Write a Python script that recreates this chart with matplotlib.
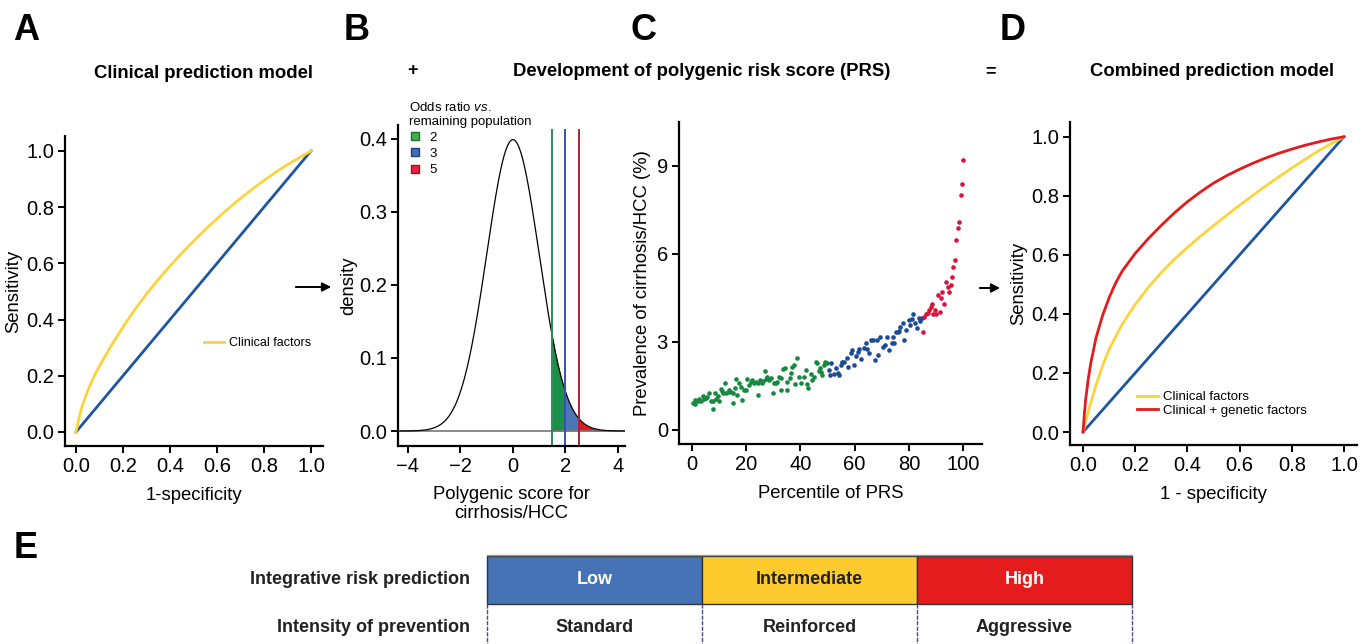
import numpy as np
import matplotlib
matplotlib.use("Agg")
import matplotlib.pyplot as plt
from matplotlib.lines import Line2D
from matplotlib.patches import Rectangle, FancyArrowPatch
from matplotlib.ticker import FormatStrFormatter

plt.rcParams['font.family'] = ['Liberation Sans', 'DejaVu Sans']
plt.rcParams['mathtext.fontset'] = 'custom'
plt.rcParams['mathtext.it'] = 'Liberation Sans:italic'
plt.rcParams['mathtext.rm'] = 'Liberation Sans'

# ---- data ----
# panel A: clinical ROC
a_fpr = [0, 0.01, 0.025, 0.05, 0.075, 0.1, 0.15, 0.2, 0.25, 0.3, 0.35, 0.4, 0.45, 0.5,
         0.55, 0.6, 0.65, 0.7, 0.75, 0.8, 0.85, 0.9, 0.95, 1.0]
a_tpr = [0, 0.04, 0.09, 0.148, 0.195, 0.235, 0.3075, 0.374, 0.435, 0.491, 0.5425, 0.5905,
         0.636, 0.679, 0.72, 0.759, 0.796, 0.831, 0.864, 0.895, 0.924, 0.951, 0.976, 1.0]

# panel B: PRS density (standard normal) and odds ratio cut-offs
prs_mean, prs_sd = 0.0, 1.0
or_labels = ['2', '3', '5']
or_cuts = [1.5, 2.0, 2.5]

# panel C: prevalence by PRS percentile
green_x = [0.5, 1.0, 1.2, 2.1, 2.7, 3.3, 3.9, 4.5, 5.1, 5.7, 6.4, 6.9, 7.6, 7.8, 8.5, 9.0,
           9.5, 10.0, 10.6, 11.0, 11.5, 12.2, 12.5, 13.1, 13.7, 14.3, 15.0, 15.2, 15.9, 16.2,
           16.5, 17.4, 17.9, 18.6, 19.3, 19.9, 20.4, 21.1, 21.7, 22.3, 22.9, 23.5, 24.2, 24.5,
           25.1, 25.8, 26.2, 26.8, 27.2, 27.8, 28.4, 29.1, 29.7, 30.3, 30.9, 31.5, 32.1, 32.8,
           33.0, 33.6, 34.3, 34.9, 35.1, 36.0, 36.4, 37.0, 37.7, 38.0, 38.9, 39.5, 40.1, 41.3,
           41.9, 42.3, 42.8, 43.8, 44.4, 45.0, 45.6, 46.2, 46.8, 47.2, 47.7, 48.0, 48.6, 49.2,
           49.8]
green_y = [0.93, 0.88, 1.02, 0.98, 1.05, 1.00, 1.16, 1.04, 1.09, 1.12, 1.27, 0.97, 1.00, 0.71,
           1.27, 1.05, 1.16, 1.00, 1.40, 1.33, 1.25, 1.60, 1.25, 1.30, 1.36, 1.30, 0.91, 1.25,
           1.42, 1.75, 1.20, 1.59, 1.48, 1.02, 1.36, 1.36, 1.75, 1.54, 1.65, 1.70, 1.59, 1.65,
           1.59, 1.20, 1.70, 1.61, 1.68, 2.00, 1.73, 1.79, 1.70, 1.76, 1.25, 1.59, 1.59, 1.63,
           1.82, 1.76, 1.36, 2.07, 2.10, 1.63, 1.36, 1.76, 1.93, 2.16, 2.22, 1.56, 2.44, 1.80,
           1.59, 1.80, 2.05, 1.56, 1.42, 1.90, 1.70, 1.82, 2.33, 2.27, 2.02, 2.10, 1.99, 1.88,
           2.22, 2.30, 2.27]
blue_x = [50.5, 50.8, 51.1, 52.3, 53.2, 53.8, 54.4, 54.8, 55.4, 56.1, 57.1, 57.7, 58.5, 59.2,
          59.7, 60.4, 61.3, 61.8, 62.5, 63.3, 64.1, 64.5, 65.3, 66.1, 66.8, 67.4, 68.3, 68.7,
          69.3, 70.3, 71.2, 71.8, 72.8, 73.7, 74.1, 74.6, 75.4, 75.9, 76.2, 76.8, 77.8, 78.3,
          79.0, 79.9, 80.5, 81.1, 81.7, 82.4, 83.0, 83.6, 84.2, 84.8]
blue_y = [2.05, 1.88, 2.27, 1.90, 2.10, 1.95, 1.88, 2.22, 2.30, 2.33, 2.44, 2.16, 2.64, 2.71,
          2.22, 2.52, 2.67, 2.75, 2.41, 2.78, 2.98, 2.75, 2.61, 3.07, 3.05, 2.39, 3.05, 2.56,
          3.16, 2.84, 2.90, 3.18, 2.73, 2.98, 3.16, 2.98, 3.34, 3.35, 3.37, 3.52, 3.64, 3.07,
          3.41, 3.75, 3.58, 3.77, 3.95, 3.64, 3.47, 3.81, 3.70, 3.81]
red_x = [85.4, 85.7, 86.4, 86.9, 87.6, 88.1, 88.6, 89.1, 89.7, 90.1, 90.6, 91.4, 91.9, 92.4,
         93.1, 93.9, 94.4, 94.9, 95.4, 95.9, 96.4, 97.0, 97.5, 98.1, 98.6, 99.1, 99.6, 100.0]
red_y = [3.35, 3.86, 3.95, 3.99, 4.08, 4.20, 4.31, 3.95, 4.08, 3.95, 4.60, 4.03, 4.49, 4.71,
         4.31, 5.05, 4.88, 4.71, 4.94, 5.22, 5.56, 5.81, 6.47, 6.90, 7.09, 8.00, 8.37, 9.19]

# panel D: combined ROC
d_fpr_clin = [0, 0.01, 0.025, 0.05, 0.075, 0.1, 0.15, 0.2, 0.25, 0.3, 0.35, 0.4, 0.45, 0.5,
              0.55, 0.6, 0.65, 0.7, 0.75, 0.8, 0.85, 0.9, 0.95, 1.0]
d_tpr_clin = [0, 0.035, 0.085, 0.16, 0.225, 0.28, 0.365, 0.432, 0.49, 0.54, 0.585, 0.625,
              0.663, 0.699, 0.734, 0.768, 0.801, 0.833, 0.864, 0.894, 0.923, 0.951, 0.976, 1.0]
d_fpr_comb = [0, 0.005, 0.01, 0.02, 0.03, 0.05, 0.075, 0.1, 0.125, 0.15, 0.2, 0.25, 0.3,
              0.35, 0.4, 0.45, 0.5, 0.55, 0.6, 0.65, 0.7, 0.75, 0.8, 0.85, 0.9, 0.95, 1.0]
d_tpr_comb = [0, 0.06, 0.11, 0.18, 0.235, 0.32, 0.395, 0.455, 0.505, 0.545, 0.605, 0.655,
              0.70, 0.742, 0.78, 0.813, 0.843, 0.868, 0.89, 0.91, 0.928, 0.944, 0.958, 0.971,
              0.982, 0.992, 1.0]

# panel E: table
risk_levels = ['Low', 'Intermediate', 'High']
prevention = ['Standard', 'Reinforced', 'Aggressive']
row_labels = ['Integrative risk prediction', 'Intensity of prevention']

YELLOW = '#fdd33c'
DIAG = '#1d55a0'
RED = '#e41a1c'
GREEN_PT = '#17893f'
BLUE_PT = '#1b4b94'
RED_PT = '#d7153b'
TICK_FS = 14.5
LAB_FS = 13.3

W, H = 1365, 644
fig = plt.figure(figsize=(W / 100, H / 100), dpi=100)


def box(x0, y0, x1, y1):
    return [x0 / W, 1 - y1 / H, (x1 - x0) / W, (y1 - y0) / H]


def fxy(x, y):
    return (x / W, 1 - y / H)


def style(ax):
    for s in ['top', 'right']:
        ax.spines[s].set_visible(False)
    for s in ['left', 'bottom']:
        ax.spines[s].set_linewidth(1.6)
    ax.tick_params(width=1.4, length=5, labelsize=TICK_FS, pad=3)
    ax.set_facecolor('none')


# ---- A ----
axA = fig.add_axes(box(65, 136, 323, 446))
style(axA)
axA.plot([0, 1], [0, 1], color=DIAG, lw=2)
axA.plot(a_fpr, a_tpr, color=YELLOW, lw=2, label='Clinical factors')
axA.set_xlim(-0.047, 1.051)
axA.set_ylim(-0.05, 1.053)
axA.set_xticks(np.arange(0, 1.01, 0.2))
axA.set_yticks(np.arange(0, 1.01, 0.2))
axA.xaxis.set_major_formatter(FormatStrFormatter('%.1f'))
axA.yaxis.set_major_formatter(FormatStrFormatter('%.1f'))
axA.set_xlabel('1-specificity', fontsize=LAB_FS, labelpad=8)
axA.set_ylabel('Sensitivity', fontsize=LAB_FS, labelpad=3)
axA.legend(loc='center left', bbox_to_anchor=(0.54, 0.332), frameon=False, fontsize=9,
           handlelength=1.6, handletextpad=0.4, borderpad=0, borderaxespad=0)

# ---- B ----
axB = fig.add_axes(box(398, 125, 625, 446))
style(axB)
xs = np.linspace(-4.3, 4.3, 600)
dens = np.exp(-0.5 * ((xs - prs_mean) / prs_sd) ** 2) / (prs_sd * np.sqrt(2 * np.pi))
axB.axhline(0, color='#777777', lw=1.2)
axB.plot(xs, dens, color='black', lw=0.9)
fill_cols = ['#1b9148', '#4a78b6', '#e31a1c']
line_cols = ['#2e8b57', '#3a4fb0', '#b0213a']
edges = or_cuts + [4.3]
for i in range(3):
    m = (xs >= edges[i]) & (xs <= edges[i + 1])
    axB.fill_between(xs[m], 0, dens[m], color=fill_cols[i], lw=0)
    axB.axvline(or_cuts[i], ymax=0.985, color=line_cols[i], lw=1.4)
axB.set_xlim(-4.38, 4.27)
axB.set_ylim(-0.0205, 0.419)
axB.set_xticks([-4, -2, 0, 2, 4])
axB.set_xticklabels(['\u22124', '\u22122', '0', '2', '4'])
axB.set_yticks([0, 0.1, 0.2, 0.3, 0.4])
axB.yaxis.set_major_formatter(FormatStrFormatter('%.1f'))
axB.set_xlabel('Polygenic score for\ncirrhosis/HCC', fontsize=LAB_FS, labelpad=7)
axB.set_ylabel('density', fontsize=LAB_FS, labelpad=1)
handles = [Line2D([], [], ls='none', marker='s', markersize=6, markerfacecolor=fc,
                  markeredgecolor=lc, markeredgewidth=1) for fc, lc in
           zip(['#3cb24a', '#3f6fb8', '#e8243c'], ['#1f6e2c', '#1e3f80', '#9a1028'])]
axB.legend(handles, or_labels, title='Odds ratio $\\it{vs.}$\nremaining population',
           loc='upper left', bbox_to_anchor=(0.05, 1.075), frameon=False, fontsize=9.5,
           title_fontsize=9.5, handlelength=0.8, handletextpad=0.7, labelspacing=0.3,
           borderpad=0, borderaxespad=0, alignment='left')

# ---- C ----
axC = fig.add_axes(box(679, 122, 982, 444))
style(axC)
axC.scatter(green_x, green_y, s=11, color=GREEN_PT, lw=0)
axC.scatter(blue_x, blue_y, s=11, color=BLUE_PT, lw=0)
axC.scatter(red_x, red_y, s=11, color=RED_PT, lw=0)
axC.set_xlim(-4.8, 107)
axC.set_ylim(-0.48, 10.5)
axC.set_xticks([0, 20, 40, 60, 80, 100])
axC.set_yticks([0, 3, 6, 9])
axC.set_xlabel('Percentile of PRS', fontsize=LAB_FS, labelpad=8)
axC.set_ylabel('Prevalence of cirrhosis/HCC (%)', fontsize=LAB_FS, labelpad=4)

# ---- D ----
axD = fig.add_axes(box(1070, 122, 1357, 445))
style(axD)
axD.plot([0, 1], [0, 1], color=DIAG, lw=2)
axD.plot(d_fpr_clin, d_tpr_clin, color=YELLOW, lw=2, label='Clinical factors')
axD.plot(d_fpr_comb, d_tpr_comb, color=RED, lw=2, label='Clinical + genetic factors')
axD.set_xlim(-0.05, 1.05)
axD.set_ylim(-0.044, 1.05)
axD.set_xticks(np.arange(0, 1.01, 0.2))
axD.set_yticks(np.arange(0, 1.01, 0.2))
axD.xaxis.set_major_formatter(FormatStrFormatter('%.1f'))
axD.yaxis.set_major_formatter(FormatStrFormatter('%.1f'))
axD.set_xlabel('1 - specificity', fontsize=LAB_FS, labelpad=8)
axD.set_ylabel('Sensitivity', fontsize=LAB_FS, labelpad=3)
axD.legend(loc='center left', bbox_to_anchor=(0.233, 0.127), frameon=False, fontsize=9.5,
           handlelength=1.6, handletextpad=0.4, labelspacing=0.1, borderpad=0, borderaxespad=0)

# ---- titles, letters, arrows ----
for lab, (x, y) in zip('ABCDE', [(26, 31), (357, 31), (643, 31), (1013, 31), (26, 548)]):
    fig.text(*fxy(x, y), lab, fontsize=26, fontweight='bold', ha='center', va='center')
fig.text(*fxy(203, 73), 'Clinical prediction model', fontsize=13.3, fontweight='bold',
         ha='center', va='center')
fig.text(*fxy(412, 71), '+', fontsize=13, fontweight='bold', ha='center', va='center')
fig.text(*fxy(702, 71), 'Development of polygenic risk score (PRS)', fontsize=13.3,
         fontweight='bold', ha='center', va='center')
fig.text(*fxy(990, 72), '=', fontsize=13, fontweight='bold', ha='center', va='center')
fig.text(*fxy(1212, 72), 'Combined prediction model', fontsize=13.3, fontweight='bold',
         ha='center', va='center')
for (x0, x1, y) in [(293, 334, 287), (977, 1003, 288)]:
    fig.add_artist(FancyArrowPatch(fxy(x0, y), fxy(x1, y), transform=fig.transFigure,
                                   arrowstyle='-|>', mutation_scale=13, color='black', lw=1.4))

# ---- E table ----
axE = fig.add_axes([0, 0, 1, 1])
axE.set_xlim(0, W)
axE.set_ylim(H, 0)
axE.axis('off')
cell_cols = ['#4573b5', '#fdcb2e', '#e41c1e']
text_cols = ['white', '#222222', 'white']
col_w = 215
x_left = 487
for i in range(3):
    x0 = x_left + i * col_w
    axE.add_patch(Rectangle((x0, 556), col_w, 48, facecolor=cell_cols[i],
                            edgecolor='#333333', lw=1))
    axE.text(x0 + col_w / 2, 580, risk_levels[i], ha='center', va='center', fontsize=13,
             fontweight='bold', color=text_cols[i])
    axE.text(x0 + col_w / 2, 628, prevention[i], ha='center', va='center', fontsize=13,
             fontweight='bold', color='#222222')
for i in range(4):
    xv = x_left + i * col_w
    axE.plot([xv, xv], [604, 644], color='#4a4a8a', lw=1, ls=(0, (3, 1)))
axE.plot([x_left, x_left + 3 * col_w], [555, 555], color='#999999', lw=1)
for lab, y in zip(row_labels, [579, 627]):
    axE.text(470, y, lab, ha='right', va='center', fontsize=13, fontweight='bold',
             color='#222222')

fig.savefig('out.png', dpi=100)
